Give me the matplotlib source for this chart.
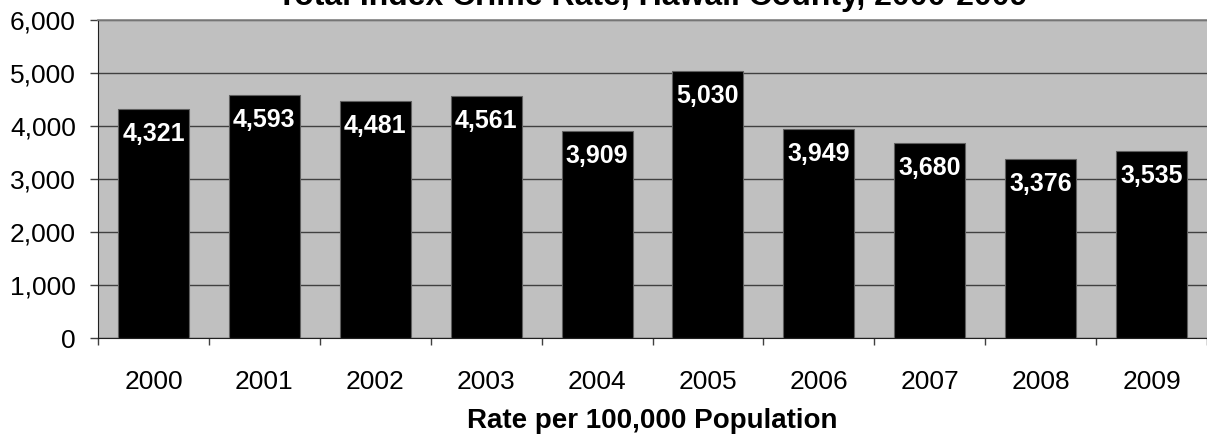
import matplotlib
matplotlib.use("Agg")
import matplotlib.pyplot as plt
from matplotlib.ticker import FuncFormatter
from matplotlib.transforms import offset_copy

# ------------------------------------------------------------
# Data
# ------------------------------------------------------------
years = ["2000", "2001", "2002", "2003", "2004",
         "2005", "2006", "2007", "2008", "2009"]
crime_rate = [4321, 4593, 4481, 4561, 3909, 5030, 3949, 3680, 3376, 3535]

title = "Total Index Crime Rate, Hawaii County, 2000-2009"
x_label = "Rate per 100,000 Population"

plt.rcParams["font.family"] = ["Liberation Sans", "DejaVu Sans"]

fig = plt.figure(figsize=(12.07, 4.40), dpi=100)
ax = fig.add_axes([98 / 1207, 102 / 440, 1109 / 1207, 318 / 440])
ax.set_facecolor("#c0c0c0")

x = list(range(len(years)))
bars = ax.bar(x, crime_rate, width=0.64, color="black",
              edgecolor="#606060", linewidth=0.8, zorder=3)

# value labels inside the top of each bar
for b, v in zip(bars, crime_rate):
    tr = offset_copy(ax.transData, fig=fig, x=0, y=-25, units="dots")
    ax.text(b.get_x() + b.get_width() / 2, v, f"{v:,}", transform=tr,
            ha="center", va="center", color="white", fontsize=18,
            fontweight="bold", zorder=4)

ax.set_ylim(0, 6000)
ax.set_xlim(-0.5, len(years) - 0.5)
ax.set_yticks(range(0, 6001, 1000))
ax.yaxis.set_major_formatter(FuncFormatter(lambda v, p: f"{int(v):,}"))
ax.grid(axis="y", color="#404040", linewidth=1, zorder=1)
ax.set_axisbelow(True)

# category ticks sit between bars
ax.set_xticks([i - 0.5 for i in range(len(years) + 1)])
ax.set_xticklabels([])
ax.set_xticks(x, minor=True)
ax.set_xticklabels(years, minor=True, fontsize=19)
ax.tick_params(axis="x", which="minor", length=0, pad=23)
ax.tick_params(axis="x", which="major", length=5, width=1, color="#404040", direction="out")
ax.tick_params(axis="y", length=6, width=1, color="#404040", direction="out",
               labelsize=19, pad=10)

ax.spines["right"].set_visible(False)
ax.spines["top"].set_color("#808080")
ax.spines["top"].set_linewidth(1.2)
ax.spines["left"].set_color("#202020")
ax.spines["bottom"].set_color("#202020")

ax.set_xlabel(x_label, fontsize=20, fontweight="bold", labelpad=10)

fig.text((98 + 1207) / 2 / 1207, 1 - 5 / 440, title, ha="center",
         va="baseline", fontsize=23, fontweight="bold")

fig.savefig("out.png", dpi=100)
